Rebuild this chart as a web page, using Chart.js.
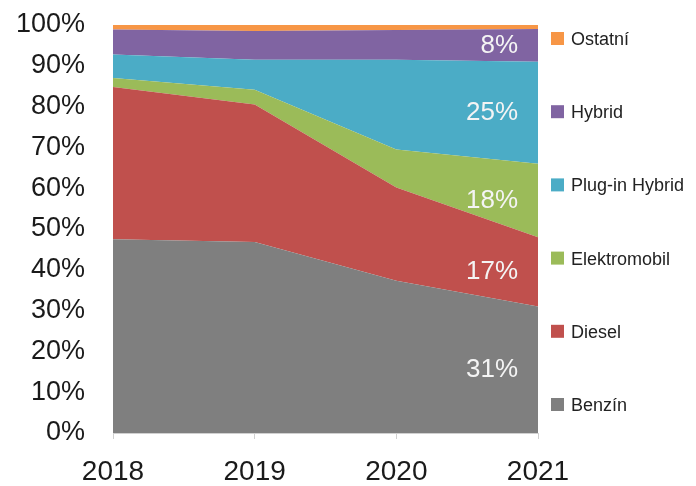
<!DOCTYPE html>
<html>
<head>
<meta charset="utf-8">
<script src="https://cdn.jsdelivr.net/npm/chart.js@4/dist/chart.umd.min.js"></script>
<style>
  html, body { margin: 0; padding: 0; background: #fff; }
  #wrap { width: 696px; height: 486px; }
</style>
</head>
<body>
<div id="wrap"><canvas id="shareChart"></canvas></div>
<script>
const years = ['2018', '2019', '2020', '2021'];
const seriesNames = ['Benzín', 'Diesel', 'Elektromobil', 'Plug-in Hybrid', 'Hybrid', 'Ostatní'];
const benzin = [47.5, 46.8, 37.3, 31];
const diesel = [37.3, 33.7, 22.9, 17];
const elektro = [2.2, 3.6, 9.3, 18];
const plugin = [5.8, 7.4, 22, 25];
const hybrid = [6.1, 7.0, 7.3, 8];
const ostatni = [1.1, 1.5, 1.2, 1];
const lastLabels = ['31%', '17%', '18%', '25%', '8%', ''];
const yTicks = [0, 10, 20, 30, 40, 50, 60, 70, 80, 90, 100];

const colors = ['#7f7f7f', '#c0504d', '#9bbb59', '#4bacc6', '#8064a2', '#f79646'];
const values = [benzin, diesel, elektro, plugin, hybrid, ostatni];
const fontFamily = "'Liberation Sans', Arial, sans-serif";

const datasets = seriesNames.map((name, i) => ({
    label: name,
    data: values[i],
    backgroundColor: colors[i],
    borderColor: colors[i],
    borderWidth: 0,
    pointRadius: 0,
    tension: 0,
    fill: i === 0 ? 'origin' : '-1'
}));

// percent labels on the right edge, centred in each band at 2021
const endLabels = {
    id: 'endLabels',
    afterDatasetsDraw(chart) {
        const ctx = chart.ctx;
        const y = chart.scales.y;
        const last = years.length - 1;
        let base = 0;
        ctx.save();
        ctx.fillStyle = '#f4f4f4';
        ctx.font = '26px ' + fontFamily;
        ctx.textAlign = 'right';
        ctx.textBaseline = 'middle';
        values.forEach((arr, i) => {
            const mid = base + arr[last] / 2;
            base += arr[last];
            if (lastLabels[i]) {
                ctx.fillText(lastLabels[i], chart.chartArea.right - 20, y.getPixelForValue(mid));
            }
        });
        ctx.restore();
    }
};

// legend spread along the right side, top item = last series
const sideLegend = {
    id: 'sideLegend',
    afterDraw(chart) {
        const ctx = chart.ctx;
        const top = 39, bottom = 405;
        const n = seriesNames.length;
        const step = (bottom - top) / (n - 1);
        ctx.save();
        ctx.font = '18px ' + fontFamily;
        ctx.textBaseline = 'middle';
        ctx.textAlign = 'left';
        for (let k = 0; k < n; k++) {
            const i = n - 1 - k;
            const cy = top + k * step;
            ctx.fillStyle = colors[i];
            ctx.fillRect(551, cy - 7, 13, 13);
            ctx.fillStyle = '#222';
            ctx.fillText(seriesNames[i], 571, cy + 1);
        }
        ctx.restore();
    }
};

new Chart(document.getElementById('shareChart'), {
    type: 'line',
    data: { labels: years, datasets: datasets },
    options: {
        responsive: true,
        maintainAspectRatio: false,
        animation: false,
        layout: { padding: { top: 25, right: 158, left: 0, bottom: 0 } },
        plugins: {
            legend: { display: false },
            tooltip: { enabled: false }
        },
        scales: {
            x: {
                offset: false,
                grid: {
                    display: true,
                    drawOnChartArea: false,
                    drawTicks: true,
                    tickLength: 6,
                    color: '#d0d0d0'
                },
                border: { color: '#d0d0d0' },
                ticks: {
                    color: '#1a1a1a',
                    font: { size: 28, family: fontFamily },
                    padding: 16,
                    maxRotation: 0
                },
                afterFit(scale) { scale.height = 53; }
            },
            y: {
                stacked: true,
                min: 0,
                max: 100,
                grid: { display: false, drawTicks: false },
                border: { display: false },
                afterBuildTicks(scale) {
                    scale.ticks = yTicks.map(v => ({ value: v }));
                },
                ticks: {
                    color: '#1a1a1a',
                    font: { size: 27, family: fontFamily },
                    padding: 28,
                    callback: v => v + '%'
                },
                afterFit(scale) {
                    scale.width = 113;
                    scale.paddingTop = 0;
                    scale.paddingBottom = 0;
                }
            }
        }
    },
    plugins: [endLabels, sideLegend]
});
</script>
</body>
</html>
